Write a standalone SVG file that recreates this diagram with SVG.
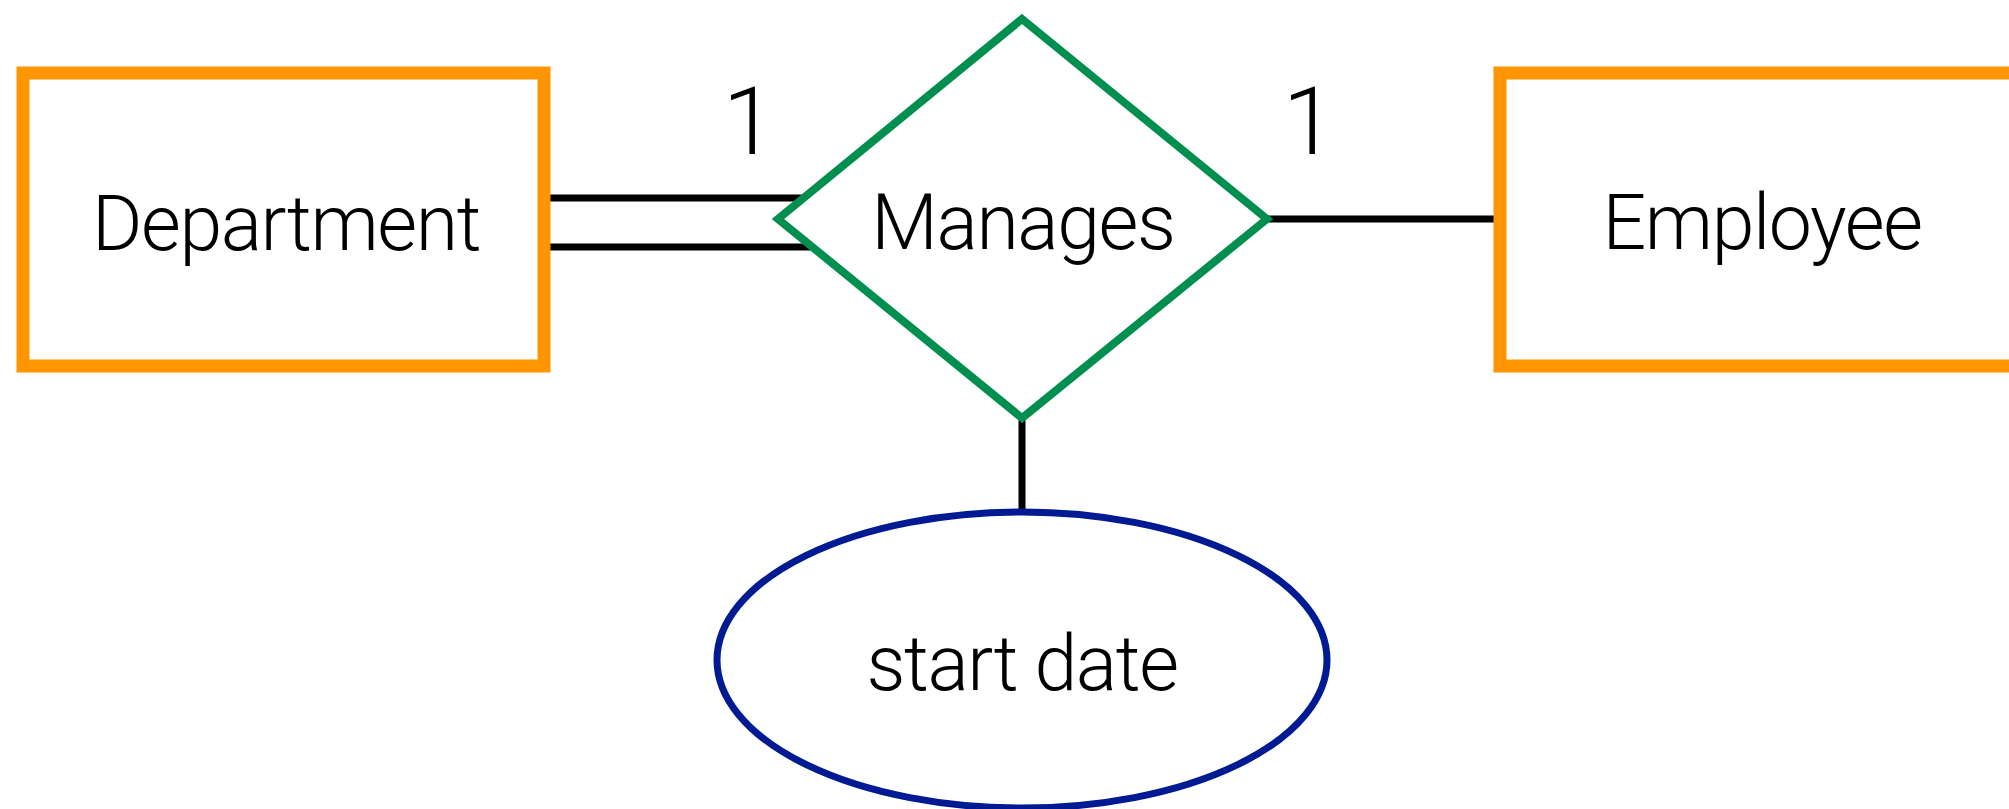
<svg xmlns="http://www.w3.org/2000/svg" width="2009" height="809" viewBox="0 0 2009 809">
  <style>
    .entity { fill: #ffffff; stroke: #ff9500; stroke-width: 13; }
    .relation { fill: #ffffff; stroke: #008f4f; stroke-width: 8; stroke-linejoin: miter; }
    .attribute { fill: #ffffff; stroke: #001a94; stroke-width: 7; }
    .link { stroke: #000000; stroke-width: 7; fill: none; }
    .label { font-family: Roboto, "Liberation Sans", Arial, sans-serif; font-weight: 300; font-size: 77px; letter-spacing: -1.4px; fill: #000000; text-anchor: middle; }
    .card { font-family: Roboto, "Liberation Sans", Arial, sans-serif; font-weight: 300; font-size: 95px; fill: #000000; text-anchor: middle; }
  </style>
  <rect width="2009" height="809" fill="#ffffff"/>

  <!-- connectors -->
  <g id="connectors">
    <line class="link" x1="550" y1="198" x2="806" y2="198"/>
    <line class="link" x1="550" y1="247" x2="812" y2="247"/>
    <line class="link" x1="1267" y1="219" x2="1494" y2="219"/>
    <line class="link" x1="1022" y1="418" x2="1022" y2="512"/>
  </g>

  <!-- Department entity -->
  <g id="department">
    <rect class="entity" x="23" y="73" width="521" height="293"/>
    <text class="label" x="286" y="250">Department</text>
  </g>

  <!-- Manages relationship -->
  <g id="manages">
    <polygon class="relation" points="1022,19 1267,219 1022,418 778,219"/>
    <text class="label" x="1023" y="249">Manages</text>
  </g>

  <!-- Employee entity -->
  <g id="employee">
    <rect class="entity" x="1500" y="73" width="521" height="293"/>
    <text class="label" x="1762" y="249">Employee</text>
  </g>

  <!-- start date attribute -->
  <g id="start-date">
    <ellipse class="attribute" cx="1022" cy="660" rx="305" ry="148"/>
    <text class="label" x="1022" y="690">start date</text>
  </g>

  <!-- cardinalities -->
  <g id="cardinalities">
    <text class="card" x="749" y="154">1</text>
    <text class="card" x="1309" y="154">1</text>
  </g>
</svg>
